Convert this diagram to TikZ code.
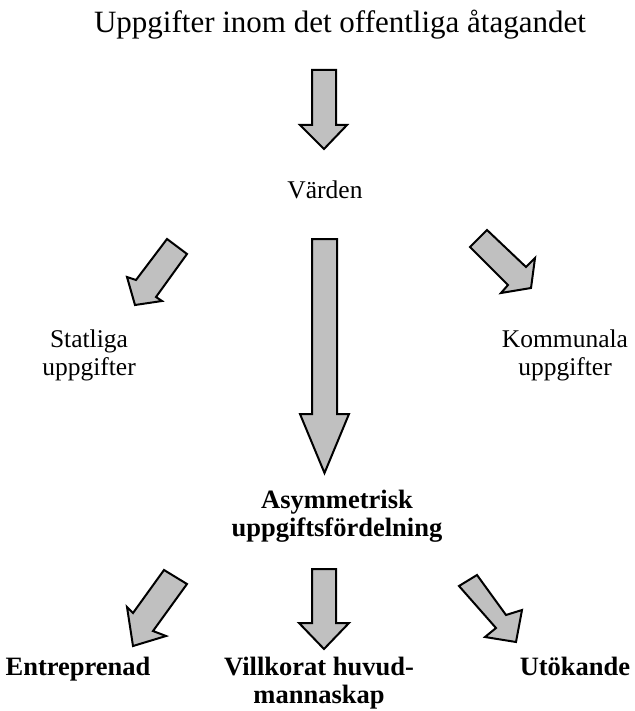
\documentclass[tikz,border=0pt]{standalone}
\usepackage{fontspec}
\setmainfont{Liberation Serif}
\definecolor{arrowgray}{RGB}{192,192,192}

\begin{document}
\begin{tikzpicture}
  [x=1pt,y=-1pt,every node/.style={inner sep=0pt,align=center,font=\fontsize{25.5}{28}\selectfont}]
  \tikzstyle{blk}=[draw=black,line width=2pt,fill=arrowgray,line join=miter]
  \tikzstyle{hd}=[font=\fontsize{26.5}{27.5}\selectfont\bfseries]
  \useasboundingbox (0,0) rectangle (634,711);

  \node[anchor=base,font=\fontsize{31}{35}\selectfont] (task) at (340,33) {Uppgifter inom det offentliga åtagandet};
  \node[anchor=base] (vard) at (325,199) {Värden};
  \node[anchor=base] (stat) at (89,375) {Statliga\\uppgifter};
  \node[anchor=base] (komm) at (565,375) {Kommunala\\uppgifter};
  \node[hd,anchor=base] (asym) at (337,536) {Asymmetrisk\\uppgiftsfördelning};
  \node[hd,anchor=base] (entr) at (78,675) {Entreprenad};
  \node[hd,anchor=base] (vill) at (319,703) {Villkorat huvud-\\mannaskap};
  \node[hd,anchor=base] (utok) at (575,675) {Utökande};

  % block arrows
  \draw[blk] (312,70) -- (336,70) -- (336,125) -- (347,125) -- (324,149) -- (300,125) -- (312,125) -- cycle;
  \draw[blk] (167,239) -- (187,254) -- (156,297) -- (162,301) -- (135,305) -- (127,277) -- (136,280) -- cycle;
  \draw[blk] (487,230) -- (526,267) -- (535,258) -- (531,288) -- (501,293) -- (508,285) -- (470,247) -- cycle;
  \draw[blk] (312,239) -- (337,239) -- (337,414) -- (349,414) -- (324.5,473) -- (300,414) -- (312,414) -- cycle;
  \draw[blk] (164,570) -- (187,584) -- (153,631) -- (166,636) -- (133,646) -- (127,607) -- (133,613) -- cycle;
  \draw[blk] (312,569) -- (336,569) -- (336,623) -- (349,623) -- (324,649) -- (299,623) -- (312,623) -- cycle;
  \draw[blk] (477,575) -- (506,615) -- (522,610) -- (516,642) -- (485,637) -- (496,628) -- (459,586) -- cycle;
\end{tikzpicture}
\end{document}
